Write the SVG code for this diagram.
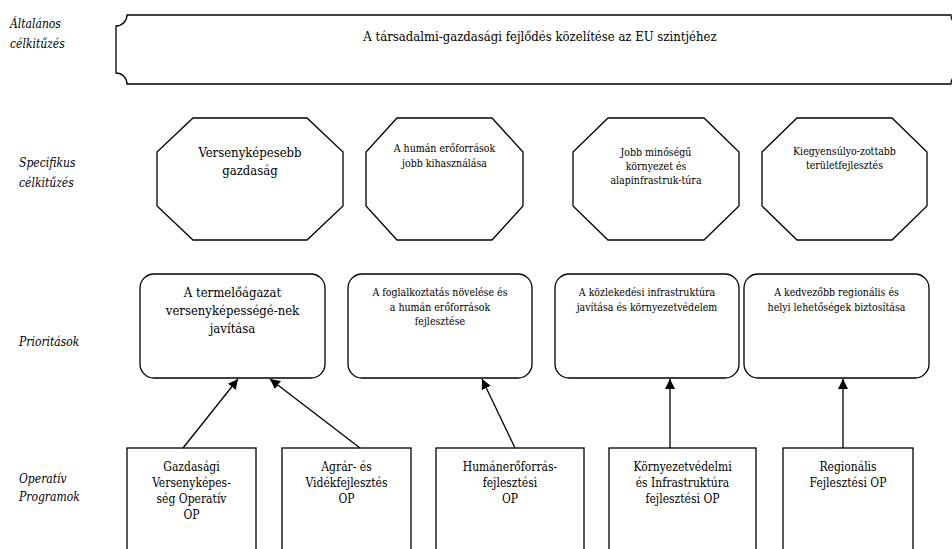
<svg xmlns="http://www.w3.org/2000/svg" width="952" height="549" viewBox="0 0 952 549">
<style>
.shape{fill:#fff;stroke:#000;stroke-width:1.3}
text{font-family:'DejaVu Serif',serif;font-stretch:condensed;fill:#000}
.lbl{font-style:italic;font-size:12px}
.t14{font-size:13px;text-anchor:middle}
.t13{font-size:12px;text-anchor:middle}
.t11{font-size:10.5px;text-anchor:middle}
.conn{stroke:#000;stroke-width:1.3;fill:none;marker-end:url(#ah)}
</style>
<defs>
<marker id="ah" viewBox="0 0 10 10" refX="10" refY="5" markerWidth="10" markerHeight="10" markerUnits="userSpaceOnUse" orient="auto">
<path d="M0,0 L10,5 L0,10 Z" fill="#000"/>
</marker>
</defs>
<rect width="952" height="549" fill="#fff"/>
<g id="labels">
<text class="lbl" x="10" y="28">Általános</text>
<text class="lbl" x="10" y="48">célkitűzés</text>
<text class="lbl" x="19" y="167">Specifikus</text>
<text class="lbl" x="19" y="187">célkitűzés</text>
<text class="lbl" x="19" y="346">Prioritások</text>
<text class="lbl" x="19" y="483">Operatív</text>
<text class="lbl" x="19" y="501">Programok</text>
</g>

<g id="general">
<path class="shape" d="M127,15 H951 A11,11 0 0 0 962,26 V73 A11,11 0 0 0 951,84 H127 A11,11 0 0 0 116,73 V26 A11,11 0 0 0 127,15 Z"/>
<text class="t14" x="540" y="41">A társadalmi-gazdasági fejlődés közelítése az EU szintjéhez</text>
</g>

<g id="spec1">
<polygon class="shape" points="193,118 307,118 343,152 343,206 307,240 193,240 157,206 157,152"/>
<text class="t14" x="250" y="157">Versenyképesebb</text>
<text class="t14" x="250" y="175">gazdaság</text>
</g>
<g id="spec2">
<polygon class="shape" points="397,118 492,118 523,152 523,206 492,240 397,240 366,206 366,152"/>
<text class="t11" x="444.5" y="152">A humán erőforrások</text>
<text class="t11" x="444.5" y="167">jobb kihasználása</text>
</g>
<g id="spec3">
<polygon class="shape" points="608,118 704,118 739,152 739,206 704,240 608,240 573,206 573,152"/>
<text class="t11" x="656" y="156">Jobb minőségű</text>
<text class="t11" x="656" y="170">környezet és</text>
<text class="t11" x="656" y="184">alapinfrastruk-túra</text>
</g>
<g id="spec4">
<polygon class="shape" points="797,118 892,118 927,152 927,206 892,240 797,240 762,206 762,152"/>
<text class="t11" x="844.5" y="155">Kiegyensúlyo-zottabb</text>
<text class="t11" x="844.5" y="169">területfejlesztés</text>
</g>

<g id="prio1">
<rect class="shape" x="140" y="274" width="185" height="104" rx="14"/>
<text class="t14" x="232.5" y="297">A termelőágazat</text>
<text class="t14" x="232.5" y="315">versenyképességé-nek</text>
<text class="t14" x="232.5" y="333">javítása</text>
</g>
<g id="prio2">
<rect class="shape" x="348" y="274" width="184" height="104" rx="14"/>
<text class="t11" x="440" y="296">A foglalkoztatás növelése és</text>
<text class="t11" x="440" y="311">a humán erőforrások</text>
<text class="t11" x="440" y="325">fejlesztése</text>
</g>
<g id="prio3">
<rect class="shape" x="555" y="274" width="184" height="104" rx="14"/>
<text class="t11" x="647" y="296">A közlekedési infrastruktúra</text>
<text class="t11" x="647" y="311">javítása és környezetvédelem</text>
</g>
<g id="prio4">
<rect class="shape" x="744" y="274" width="185" height="104" rx="14"/>
<text class="t11" x="836.5" y="296">A kedvezőbb regionális és</text>
<text class="t11" x="836.5" y="311">helyi lehetőségek biztosítása</text>
</g>

<g id="op1">
<rect class="shape" x="127" y="448" width="129" height="120"/>
<text class="t13" x="191.5" y="471">Gazdasági</text>
<text class="t13" x="191.5" y="487">Versenyképes-</text>
<text class="t13" x="191.5" y="503">ség Operatív</text>
<text class="t13" x="191.5" y="519">OP</text>
</g>
<g id="op2">
<rect class="shape" x="282" y="448" width="129" height="120"/>
<text class="t13" x="346.5" y="471">Agrár- és</text>
<text class="t13" x="346.5" y="487">Vidékfejlesztés</text>
<text class="t13" x="346.5" y="503">OP</text>
</g>
<g id="op3">
<rect class="shape" x="436" y="448" width="148" height="120"/>
<text class="t13" x="510" y="471">Humánerőforrás-</text>
<text class="t13" x="510" y="487">fejlesztési</text>
<text class="t13" x="510" y="503">OP</text>
</g>
<g id="op4">
<rect class="shape" x="609" y="448" width="147" height="120"/>
<text class="t13" x="682.5" y="471">Környezetvédelmi</text>
<text class="t13" x="682.5" y="487">és Infrastruktúra</text>
<text class="t13" x="682.5" y="503">fejlesztési OP</text>
</g>
<g id="op5">
<rect class="shape" x="783" y="448" width="130" height="120"/>
<text class="t13" x="848" y="471">Regionális</text>
<text class="t13" x="848" y="487">Fejlesztési OP</text>
</g>

<g id="connectors">
<line class="conn" x1="183" y1="448" x2="238" y2="379"/>
<line class="conn" x1="360" y1="448" x2="270" y2="379"/>
<line class="conn" x1="515" y1="448" x2="482" y2="379"/>
<line class="conn" x1="670" y1="448" x2="670" y2="379"/>
<line class="conn" x1="843" y1="448" x2="843" y2="379"/>
</g>
</svg>
